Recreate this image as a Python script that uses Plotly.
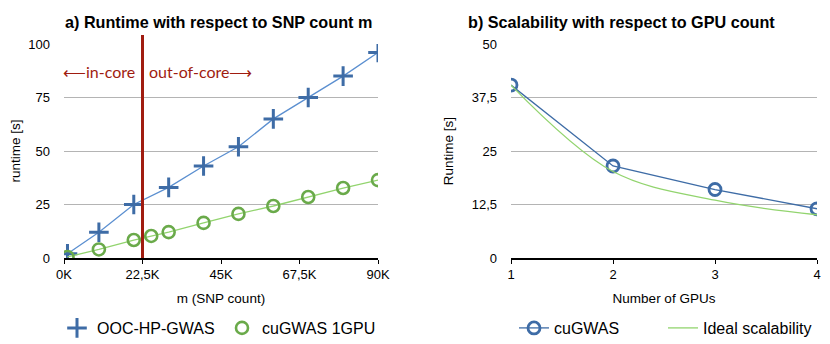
import plotly.graph_objects as go

# a) runtime vs SNP count
snp_k = [1, 10, 20, 30, 40, 50, 60, 70, 80, 90]
ooc_runtime = [2, 12, 25, 33, 43, 52, 65, 75, 85, 96]
cugwas_snp_k = [1, 10, 20, 25, 30, 40, 50, 60, 70, 80, 90]
cugwas_runtime = [0.5, 4, 8.4, 10.3, 12.1, 16.4, 20.6, 24.3, 28.5, 32.7, 36.4]
core_limit_k = 22.5
a_xticks = [0, 22.5, 45, 67.5, 90]
a_xlabels = ["0K", "22,5K", "45K", "67,5K", "90K"]
a_yticks = [0, 25, 50, 75, 100]

# b) scalability vs GPU count
gpus = [1, 2, 3, 4]
cugwas_gpu_runtime = [40.4, 21.5, 16.0, 11.5]
ideal_runtime = [40.4, 20.2, 13.5, 10.1]
b_yticks = [0, 12.5, 25, 37.5, 50]
b_ylabels = ["0", "12,5", "25", "37,5", "50"]

FONT = "Liberation Sans, Arial, sans-serif"
BLUE_LINE = "#5b8fd0"
BLUE_MARK = "#3e6ca6"
GREEN_LINE = "#92d46e"
GREEN_MARK = "#6aaa4a"
RED = "#a01c10"

# the page body adds an 8px offset, so the figure is a bit smaller than the window
W, H, OFF = 822, 336, 8


def px(x):
    return (x - OFF) / W


def py(y):
    return 1 - (y - OFF) / H


ooc_marker = dict(symbol="cross-thin", size=14, color=BLUE_MARK,
                  line=dict(color=BLUE_MARK, width=3))
cug_marker = dict(symbol="circle-open", size=12, color=GREEN_MARK,
                  line=dict(color=GREEN_MARK, width=2.6))
gpu_marker = dict(symbol="circle-open", size=12, color=BLUE_MARK,
                  line=dict(color=BLUE_MARK, width=2.8))

fig = go.Figure()

fig.add_trace(go.Scatter(
    x=snp_k, y=ooc_runtime, mode="lines+markers", name="OOC-HP-GWAS",
    line=dict(color=BLUE_LINE, width=1.3), marker=ooc_marker,
    xaxis="x", yaxis="y", showlegend=False,
))
fig.add_trace(go.Scatter(
    x=cugwas_snp_k, y=cugwas_runtime, mode="lines+markers", name="cuGWAS 1GPU",
    line=dict(color=GREEN_LINE, width=1.3), marker=cug_marker,
    xaxis="x", yaxis="y", showlegend=False,
))
# legend entries for panel a (marker only)
fig.add_trace(go.Scatter(x=[None], y=[None], mode="markers", name="OOC-HP-GWAS",
                         marker=ooc_marker, xaxis="x", yaxis="y", legend="legend"))
fig.add_trace(go.Scatter(x=[None], y=[None], mode="markers", name="cuGWAS 1GPU",
                         marker=cug_marker, xaxis="x", yaxis="y", legend="legend"))

fig.add_trace(go.Scatter(
    x=gpus, y=cugwas_gpu_runtime, mode="lines+markers", name="cuGWAS",
    line=dict(color=BLUE_MARK, width=1.3), marker=gpu_marker,
    xaxis="x2", yaxis="y2", legend="legend2",
))
fig.add_trace(go.Scatter(
    x=gpus, y=ideal_runtime, mode="lines", name="Ideal scalability",
    line=dict(color=GREEN_LINE, width=1.3, shape="spline", smoothing=1.0),
    xaxis="x2", yaxis="y2", legend="legend3",
))

# in-core / out-of-core boundary
fig.add_shape(type="line", xref="x", yref="paper", x0=core_limit_k, x1=core_limit_k,
              y0=py(258), y1=py(35), line=dict(color=RED, width=3))
fig.add_annotation(x=core_limit_k, y=87, xref="x", yref="y", text="⟵in-core",
                   xanchor="right", xshift=-6, showarrow=False,
                   font=dict(family="Lato, sans-serif", size=16, color=RED))
fig.add_annotation(x=core_limit_k, y=87, xref="x", yref="y", text="out-of-core⟶",
                   xanchor="left", xshift=4, showarrow=False,
                   font=dict(family="Lato, sans-serif", size=16, color=RED))

# panel titles
fig.add_annotation(x=px(218), y=py(22), xref="paper", yref="paper",
                   xanchor="center", yanchor="middle",
                   text="<b>a) Runtime with respect to SNP count m</b>",
                   showarrow=False, font=dict(size=16.2, color="black", family=FONT))
fig.add_annotation(x=px(621), y=py(22), xref="paper", yref="paper",
                   xanchor="center", yanchor="middle",
                   text="<b>b) Scalability with respect to GPU count</b>",
                   showarrow=False, font=dict(size=16.2, color="black", family=FONT))

axis_common = dict(showgrid=False, zeroline=False, ticks="outside", ticklen=4,
                   tickcolor="black", showline=True, linecolor="black", linewidth=1.5,
                   tickfont=dict(size=13, color="black"), automargin=False)
yaxis_common = dict(showgrid=True, gridcolor="#b4b4b4", gridwidth=1, zeroline=False,
                    showline=False, ticks="", ticklabelstandoff=13,
                    tickfont=dict(size=13, color="black"), automargin=False)
legend_common = dict(orientation="h", y=py(328), xanchor="left", yanchor="middle",
                     font=dict(size=16), bgcolor="rgba(0,0,0,0)")

fig.update_layout(
    width=W, height=H,
    margin=dict(l=0, r=0, t=0, b=0, autoexpand=False),
    paper_bgcolor="white", plot_bgcolor="white",
    font=dict(family=FONT, color="black", size=13),
    xaxis=dict(domain=[px(64), px(378)], range=[0, 90], tickvals=a_xticks,
               ticktext=a_xlabels, anchor="y",
               title=dict(text="m (SNP count)", font=dict(size=13.5), standoff=12),
               **axis_common),
    yaxis=dict(domain=[py(258), py(44)], range=[0, 100], tickvals=a_yticks, anchor="x",
               title=dict(text="runtime [s]", font=dict(size=13.5), standoff=14),
               **yaxis_common),
    xaxis2=dict(domain=[px(511), px(817)], range=[1, 4], tickvals=gpus, anchor="y2",
                title=dict(text="Number of GPUs", font=dict(size=13.5), standoff=12),
                **axis_common),
    yaxis2=dict(domain=[py(258), py(44)], range=[0, 50], tickvals=b_yticks,
                ticktext=b_ylabels, anchor="x2",
                title=dict(text="Runtime [s]", font=dict(size=13.5), standoff=14),
                **yaxis_common),
    legend=dict(x=px(57), entrywidth=120, **legend_common),
    legend2=dict(x=px(514), **legend_common),
    legend3=dict(x=px(663), **legend_common),
)

fig.write_html("out.html")
